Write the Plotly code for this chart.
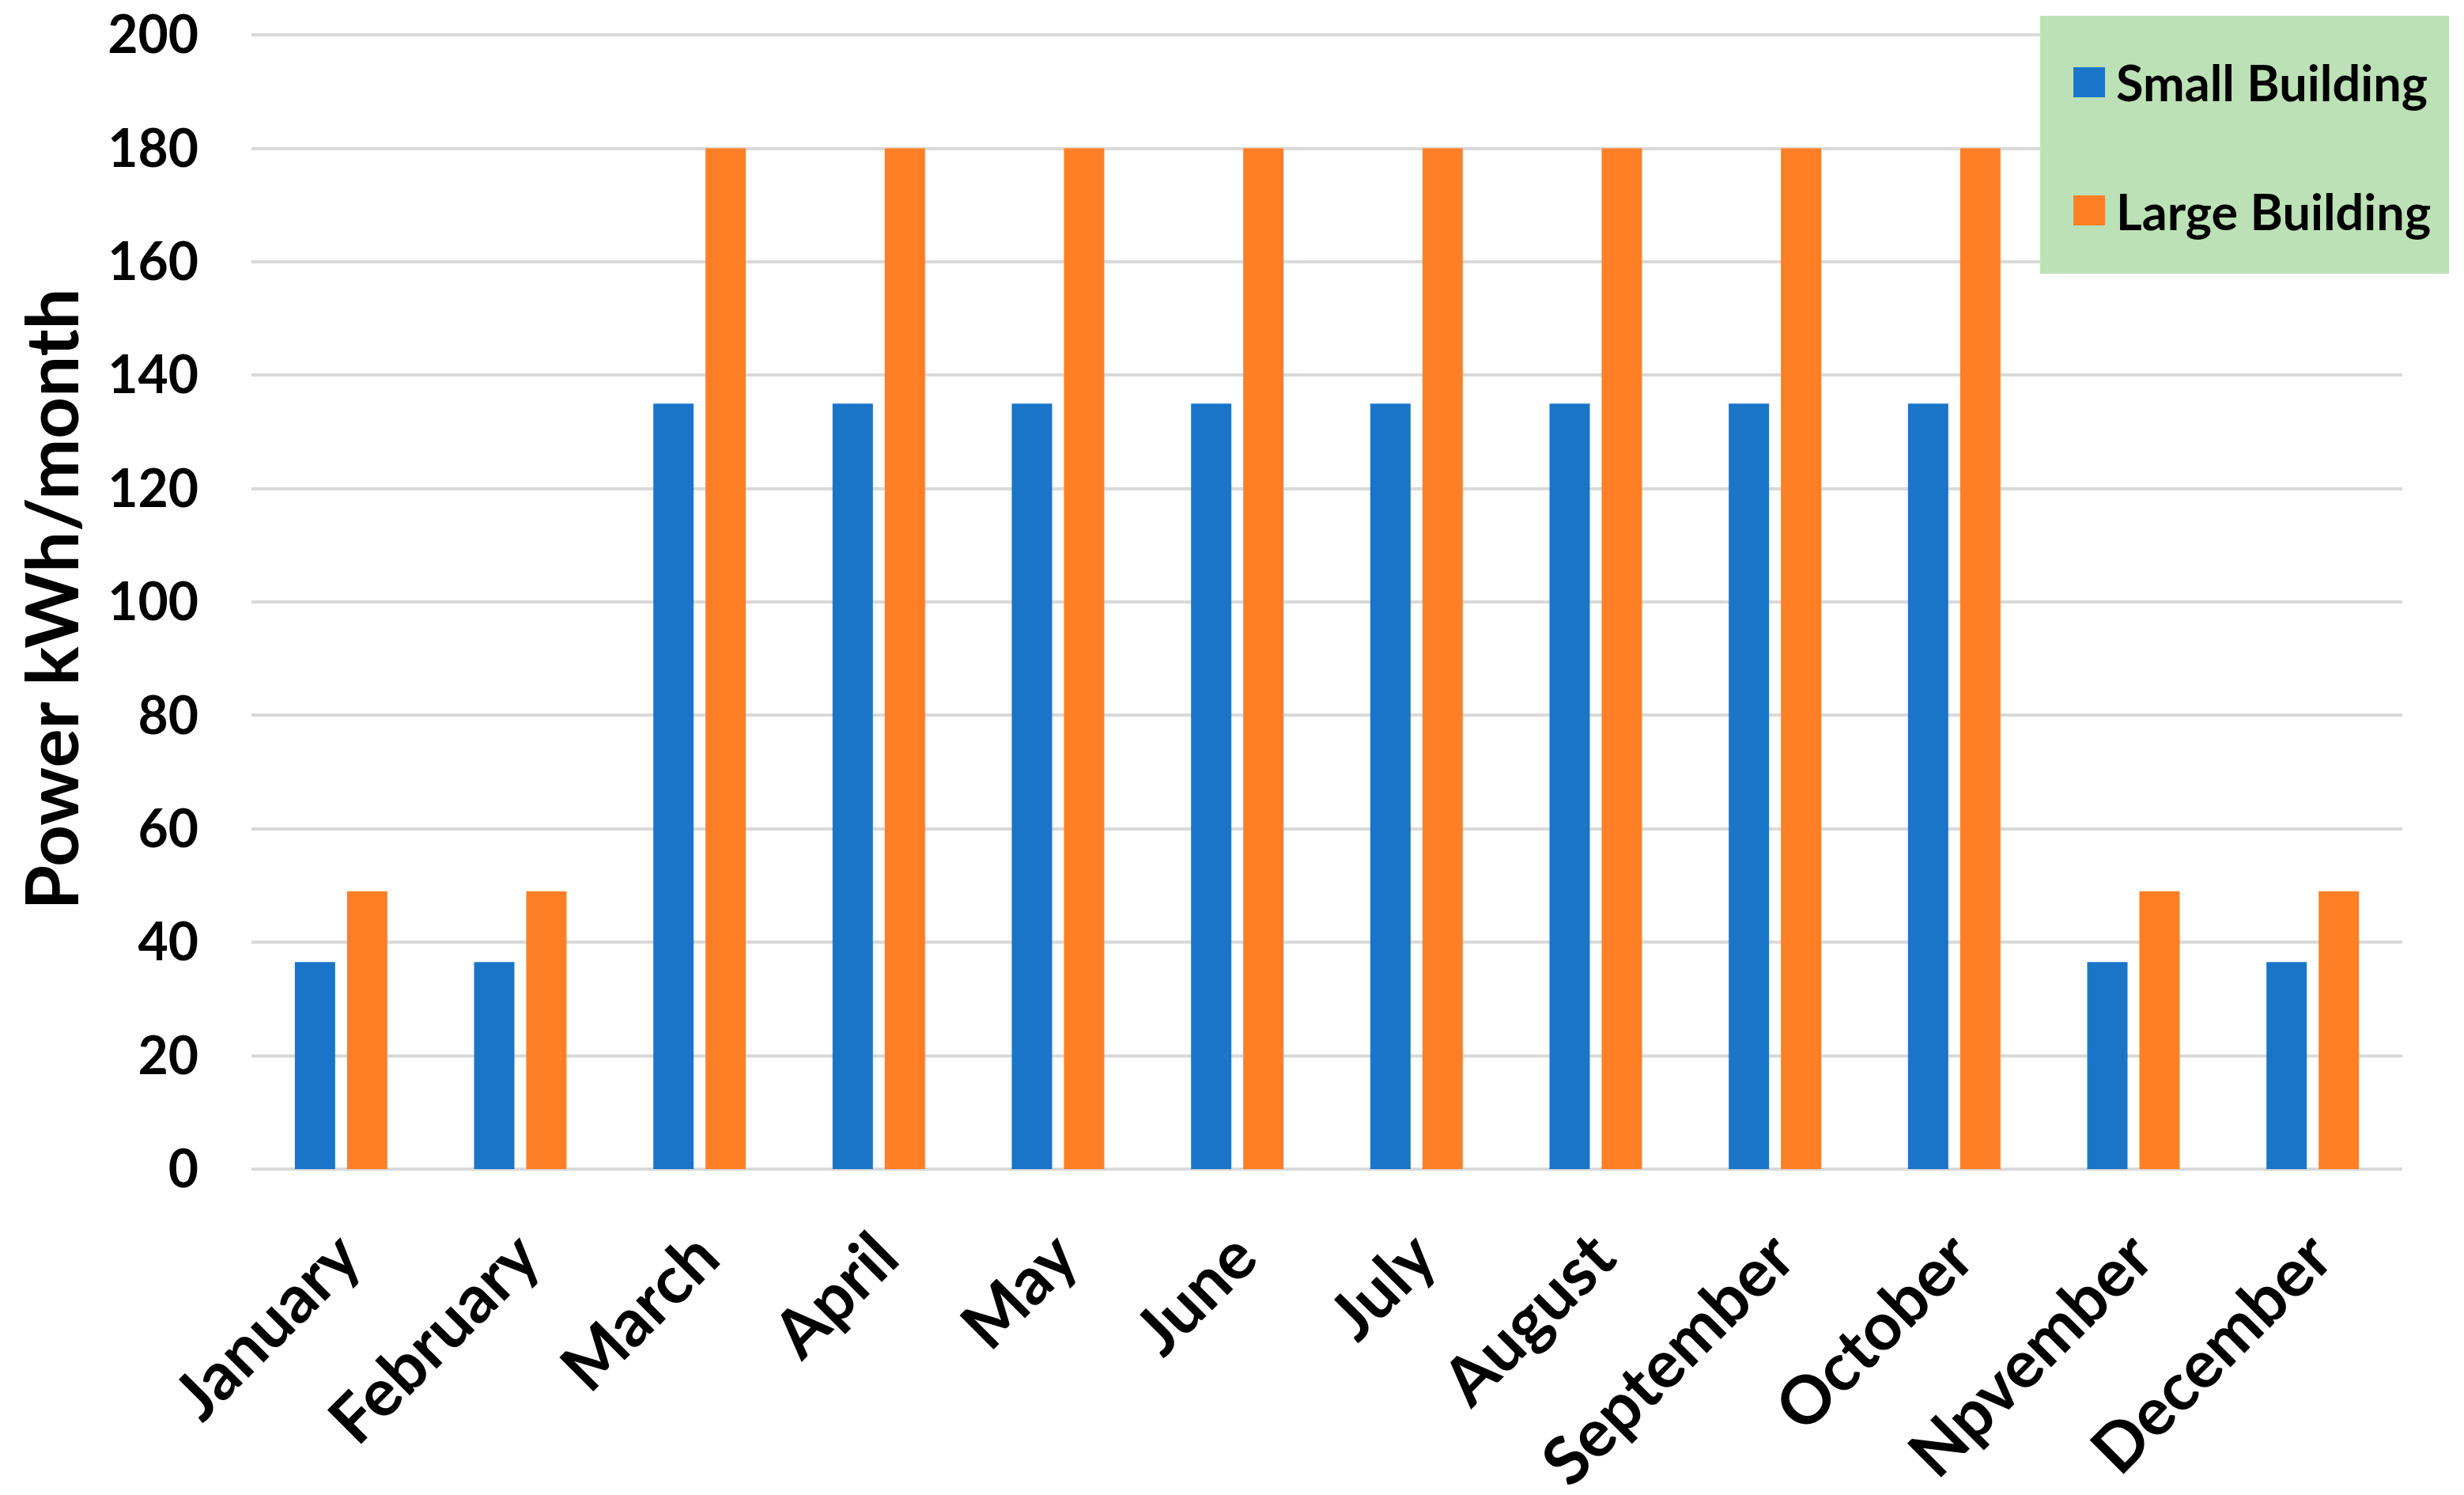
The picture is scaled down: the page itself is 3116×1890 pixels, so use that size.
import plotly.graph_objects as go

months = ["January", "February", "March", "April", "May", "June", "July",
          "August", "September", "October", "Npvember", "December"]
small_building = [36.5, 36.5, 135, 135, 135, 135, 135, 135, 135, 135, 36.5, 36.5]
large_building = [49, 49, 180, 180, 180, 180, 180, 180, 180, 180, 49, 49]
y_ticks = [0, 20, 40, 60, 80, 100, 120, 140, 160, 180, 200]
series_names = ["Small Building", "Large Building"]

BLUE = "#1A75C9"
ORANGE = "#FF7F27"
LEGEND_BG = "#BCE1B6"
GRID = "#D9D9D9"
FONT = "Lato"

W, H = 3116, 1890
OFF = 8  # default page body margin
L, R, T, B = 310, 86, 29, 420
PW, PH = W - L - R, H - T - B


def px(x):
    return (x - OFF - L) / PW


def py(y):
    return (H - B - (y - OFF)) / PH


fig = go.Figure()
fig.add_trace(go.Bar(x=months, y=small_building, name=series_names[0],
                     marker=dict(color=BLUE, line=dict(width=0)), showlegend=False))
fig.add_trace(go.Bar(x=months, y=large_building, name=series_names[1],
                     marker=dict(color=ORANGE, line=dict(width=0)), showlegend=False))

fig.update_layout(
    width=W, height=H,
    margin=dict(l=L, r=R, t=T, b=B, autoexpand=False),
    paper_bgcolor="white", plot_bgcolor="white",
    barmode="group", bargap=0.418, bargroupgap=0.227,
    font=dict(family=FONT, color="black"),
    xaxis=dict(
        tickangle=-45,
        tickfont=dict(family=FONT, size=84, color="black", weight="bold"),
        showgrid=False, showline=False, ticks="",
        ticklabelstandoff=44, automargin=False,
    ),
    yaxis=dict(
        range=[0, 201], tickvals=y_ticks,
        tickfont=dict(family=FONT, size=66, color="black", weight="bold"),
        showgrid=True, gridcolor=GRID, gridwidth=4,
        zeroline=True, zerolinecolor=GRID, zerolinewidth=4,
        showline=False, ticks="",
        ticklabelstandoff=66, automargin=False,
        ticklabeloverflow="allow",
        title=dict(text="Power kWh/month",
                   font=dict(family=FONT, size=92, color="black", weight="bold"),
                   standoff=38),
    ),
)

# Legend box (drawn to match the reference's large legend)
fig.add_shape(type="rect", xref="paper", yref="paper",
              x0=px(2580), x1=px(3097), y0=py(346), y1=py(20),
              fillcolor=LEGEND_BG, line=dict(width=0), layer="above")
legend_rows = [(series_names[0], BLUE, 104), (series_names[1], ORANGE, 266)]
for name, color, yc in legend_rows:
    fig.add_shape(type="rect", xref="paper", yref="paper",
                  x0=px(2622), x1=px(2662), y0=py(yc + 19), y1=py(yc - 19),
                  fillcolor=color, line=dict(width=0), layer="above")
    fig.add_annotation(xref="paper", yref="paper", x=px(2674), y=py(yc),
                       xanchor="left", yanchor="middle", showarrow=False,
                       text=name,
                       font=dict(family=FONT, size=63, color="black", weight="bold"))

fig.write_html("out.html")
